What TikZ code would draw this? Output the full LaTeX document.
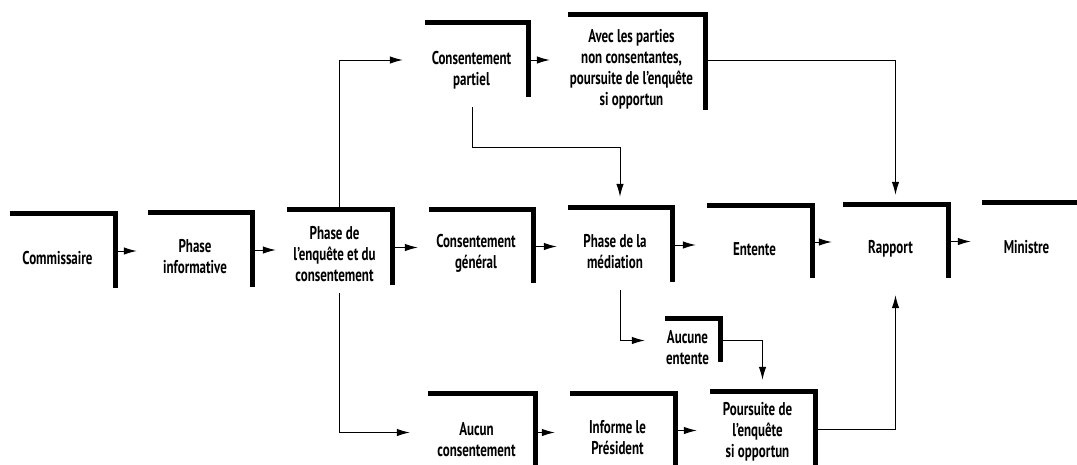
\documentclass[tikz,border=0pt]{standalone}
\usepackage{fontspec}
\setmainfont{PT Sans}[FakeStretch=0.7]
\usetikzlibrary{arrows.meta}

\begin{document}
\begin{tikzpicture}[x=1pt, y=-1pt]
    \tikzset{box/.style = {minimum width=105pt, minimum height=74pt, inner sep=0pt}}
    \tikzset{txt/.style = {align=center, xshift=-5pt, yshift=-7pt, font=\bfseries\fontsize{18.5pt}{21pt}\selectfont}}
    \tikzset{bar/.style = {line width=5pt}}
    \tikzset{arr/.style = {draw, line width=1pt, -{Latex[length=13pt,width=7.5pt]}, shorten >=11pt}}

    \useasboundingbox (0,0) rectangle (1077,464);
    \clip (0,0) rectangle (1077,464);

    % main row
    \node[box, label={[txt]center:{Commissaire}}] (comm) at (62.5,251) {};
    \node[box, minimum width=104pt, label={[txt]center:{Phase\\informative}}] (info) at (200,250) {};
    \node[box, minimum height=75pt, label={[txt]center:{Phase de\\l'enquête et du\\consentement}}] (enq) at (339.5,247.5) {};
    \node[box, minimum width=104pt, minimum height=73pt, label={[txt]center:{Consentement\\général}}] (gen) at (481,246.5) {};
    \node[box, minimum width=104pt, label={[txt]center:{Phase de la\\médiation}}] (med) at (620,245) {};
    \node[box, minimum height=72pt, label={[txt]center:{Entente}}] (ent) at (759.5,242) {};
    \node[box, minimum height=73pt, label={[txt]center:{Rapport}}] (rap) at (895.5,241.5) {};
    \node[box, minimum width=95pt, label={[txt, xshift=2pt]center:{Ministre}}] (min) at (1029.5,240) {};

    % top row
    \node[box, minimum width=103pt, label={[txt, yshift=-3pt]center:{Consentement\\partiel}}] (part) at (476.5,60) {};
    \node[box, minimum width=137pt, minimum height=95pt, label={[txt]center:{Avec les parties\\non consentantes,\\poursuite de l'enquête\\si opportun}}] (avec) at (636.5,62.5) {};

    % bottom row
    \node[box, minimum width=55pt, minimum height=43pt, label={[txt]center:{Aucune\\entente}}] (none) at (692.5,340.5) {};
    \node[box, minimum width=107pt, minimum height=77pt, label={[txt]center:{Aucun\\consentement}}] (aucun) at (481.5,432.5) {};
    \node[box, minimum height=73pt, label={[txt]center:{Informe le\\Président}}] (inf) at (622.5,430.5) {};
    \node[box, label={[txt, yshift=4pt]center:{Poursuite de\\l'enquête\\si opportun}}] (pours) at (762.5,429) {};

    % frames
    \foreach \n in {comm,info,enq,gen,med,ent,rap,part,avec,none,aucun,inf,pours}
        \draw[bar] (\n.north west) -- (\n.north east) -- (\n.south east);
    \draw[bar] (min.north west) -- (min.north east);

    % arrows
    \draw[arr] (comm.east) -- (comm.east -| info.west);
    \draw[arr] (info.east) -- (info.east -| enq.west);
    \draw[arr] (enq.east) -- (enq.east -| gen.west);
    \draw[arr] (gen.east) -- (gen.east -| med.west);
    \draw[arr] (med.east) -- (med.east -| ent.west);
    \draw[arr] (ent.east) -- (ent.east -| rap.west);
    \draw[arr] (rap.east) -- (rap.east -| min.west);

    \draw[arr, shorten >=22pt] (enq.north) |- (part.west);
    \draw[arr, shorten >=18pt] (part.east) -- (part.east -| avec.west);
    \draw[arr, shorten >=10pt] (avec.east |- part) -| (rap.north);
    \draw[arr, shorten <=10pt] ([xshift=-4pt]part.south) -- ++(0,50) -| (med.north);

    \draw[arr, shorten <=8pt, shorten >=18pt] (enq.south) |- (aucun.west);
    \draw[arr, shorten <=8pt, shorten >=20pt] (med.south) |- (none.west);
    \draw[arr, shorten >=12pt] (none.east) -| (pours.north);
    \draw[arr, shorten >=17pt] (pours.east) -| (rap.south);
    \draw[arr, shorten >=15pt] (aucun.east) -- (aucun.east -| inf.west);
    \draw[arr, shorten >=13pt] (inf.east) -- (inf.east -| pours.west);
\end{tikzpicture}
\end{document}
